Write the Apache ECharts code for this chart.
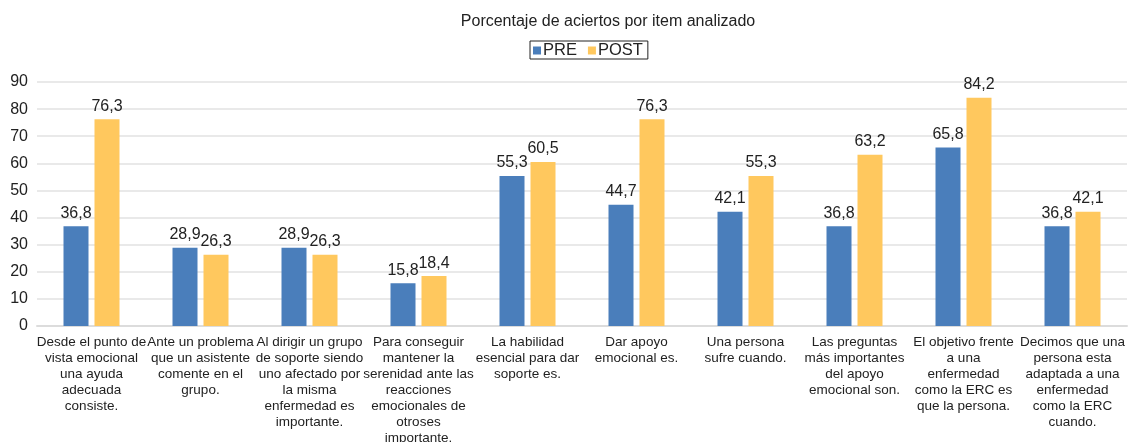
<!DOCTYPE html>
<html><head><meta charset="utf-8">
<script src="https://cdn.jsdelivr.net/npm/echarts@6/dist/echarts.min.js"></script>
<style>html,body{margin:0;padding:0;background:#fff}#c{width:1137px;height:442px}</style>
</head><body><div id="c"></div>
<script>
const categories = [
  "Desde el punto de\nvista emocional\nuna ayuda\nadecuada\nconsiste.",
  "Ante un problema\nque un asistente\ncomente en el\ngrupo.",
  "Al dirigir un grupo\nde soporte siendo\nuno afectado por\nla misma\nenfermedad es\nimportante.",
  "Para conseguir\nmantener la\nserenidad ante las\nreacciones\nemocionales de\notroses\nimportante.",
  "La habilidad\nesencial para dar\nsoporte es.",
  "Dar apoyo\nemocional es.",
  "Una persona\nsufre cuando.",
  "Las preguntas\nmás importantes\ndel apoyo\nemocional son.",
  "El objetivo frente\na una\nenfermedad\ncomo la ERC es\nque la persona.",
  "Decimos que una\npersona esta\nadaptada a una\nenfermedad\ncomo la ERC\ncuando."
];
const pre = [36.8, 28.9, 28.9, 15.8, 55.3, 44.7, 42.1, 36.8, 65.8, 36.8];
const post = [76.3, 26.3, 26.3, 18.4, 60.5, 76.3, 55.3, 63.2, 84.2, 42.1];
const title = "Porcentaje de aciertos por item analizado";

const font = "'Liberation Sans', Arial, sans-serif";
const fmt = p => String(p.value).replace('.', ',');
const chart = echarts.init(document.getElementById('c'));
chart.setOption({
  animation: false,
  textStyle: { fontFamily: font },
  title: { text: title, left: 603, top: 9, textAlign: 'center',
    textStyle: { fontSize: 16, fontWeight: 'normal', color: '#222', fontFamily: font } },
  legend: { left: 530, top: 41, borderColor: '#222', borderWidth: 1, padding: [1, 5, 0, 3],
    itemWidth: 8, itemHeight: 8, itemGap: 11, icon: 'rect',
    textStyle: { fontSize: 16.5, color: '#222', fontFamily: font, padding: [0, 0, 0, -3] } },
  grid: { left: 37, right: 10, top: 82, bottom: 116, containLabel: false, outerBoundsMode: 'none' },
  xAxis: { type: 'category', data: categories,
    axisLine: { lineStyle: { color: '#dcdcdc', width: 2 } }, axisTick: { show: false },
    axisLabel: { interval: 0, fontSize: 13.5, lineHeight: 16, color: '#222', margin: 8, fontFamily: font } },
  yAxis: { type: 'value', min: 0, max: 90, interval: 10,
    axisLine: { show: false }, axisTick: { show: false },
    splitLine: { lineStyle: { color: '#e2e2e2', width: 1.5 } },
    axisLabel: { fontSize: 16, color: '#222', margin: 9, fontFamily: font } },
  series: [
    { name: 'PRE', type: 'bar', data: pre, barWidth: 25, barGap: '24%',
      itemStyle: { color: '#4A7EBB' },
      label: { show: true, position: 'top', distance: 5, fontSize: 16, color: '#222', formatter: fmt, fontFamily: font } },
    { name: 'POST', type: 'bar', data: post, barWidth: 25,
      itemStyle: { color: '#FFC85E' },
      label: { show: true, position: 'top', distance: 5, fontSize: 16, color: '#222', formatter: fmt, fontFamily: font } }
  ]
});
</script></body></html>
